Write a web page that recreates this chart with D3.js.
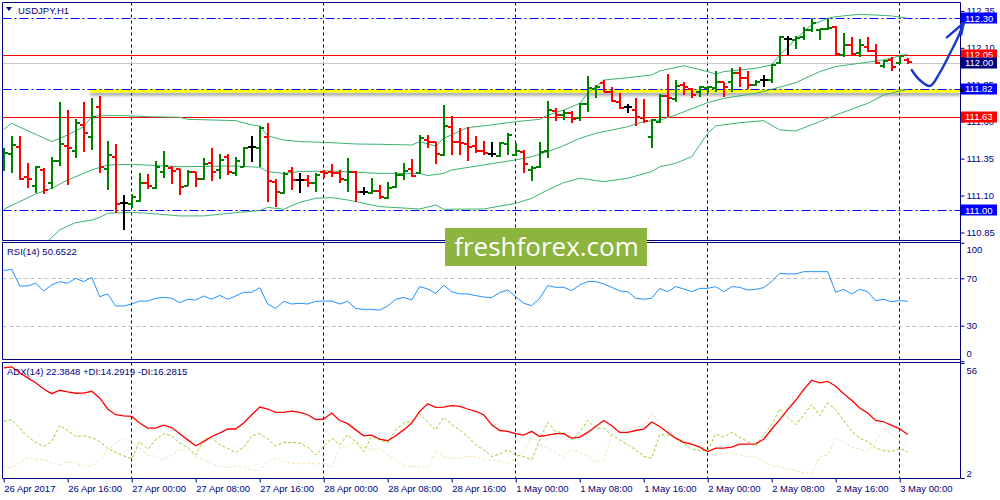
<!DOCTYPE html>
<html><head><meta charset="utf-8">
<script src="https://cdn.jsdelivr.net/npm/d3@7"></script>
<style>
body{margin:0;background:#fff;}
svg{display:block;font-family:"Liberation Sans",Arial,sans-serif;}
</style>
</head><body>
<svg id="c" width="1000" height="500"></svg>
<script>
// ---------------- DATA ----------------
const symbol = "USDJPY,H1";
const opens = [111.363,111.381,111.431,111.228,111.167,111.273,111.183,111.334,111.438,111.404,
111.578,111.494,111.697,111.280,111.363,111.052,111.043,111.065,111.187,111.153,
111.257,111.289,111.280,111.167,111.257,111.212,111.318,111.273,111.363,111.250,
111.295,111.431,111.424,111.499,111.194,111.115,111.268,111.205,111.205,111.183,
111.262,111.262,111.250,111.205,111.262,111.126,111.115,111.133,111.081,111.160,
111.239,111.280,111.250,111.476,111.465,111.374,111.566,111.465,111.447,111.438,
111.402,111.381,111.370,111.447,111.374,111.397,111.273,111.295,111.404,111.672,
111.645,111.657,111.623,111.720,111.821,111.860,111.803,111.736,111.697,111.679,
111.623,111.499,111.600,111.774,111.754,111.848,111.821,111.803,111.826,111.826,
111.871,111.871,111.927,111.894,111.848,111.882,111.882,111.995,112.160,112.153,
112.176,112.221,112.221,112.225,112.243,112.052,112.119,112.063,112.108,112.079,
111.979,112.018,111.995,112.018];
const highs = [111.420,111.503,111.503,111.318,111.302,111.289,111.359,111.736,111.679,111.616,
111.736,111.758,111.774,111.469,111.449,111.104,111.110,111.250,111.246,111.334,
111.402,111.302,111.280,111.273,111.257,111.352,111.424,111.379,111.381,111.363,
111.426,111.503,111.571,111.589,111.212,111.262,111.291,111.250,111.239,111.250,
111.273,111.314,111.273,111.352,111.268,111.160,111.217,111.171,111.189,111.257,
111.318,111.347,111.510,111.510,111.465,111.713,111.639,111.555,111.566,111.503,
111.469,111.465,111.465,111.521,111.453,111.408,111.302,111.465,111.740,111.695,
111.679,111.672,111.729,111.909,111.848,111.882,111.833,111.792,111.718,111.763,
111.751,111.618,111.788,111.923,111.882,111.871,111.826,111.842,111.842,111.943,
111.871,111.961,111.973,111.946,111.882,111.916,111.988,112.180,112.180,112.180,
112.239,112.300,112.228,112.300,112.248,112.203,112.176,112.158,112.176,112.124,
112.018,112.036,112.052,112.029];
const lows = [111.268,111.255,111.205,111.149,111.119,111.108,111.147,111.302,111.171,111.352,
111.397,111.408,111.250,111.138,110.980,110.867,111.013,111.059,111.142,111.142,
111.217,111.178,111.104,111.165,111.160,111.205,111.201,111.212,111.239,111.235,
111.295,111.329,111.295,111.059,111.025,111.108,111.138,111.119,111.160,111.126,
111.217,111.228,111.183,111.126,111.059,111.104,111.108,111.077,111.077,111.149,
111.205,111.228,111.246,111.420,111.314,111.370,111.374,111.374,111.336,111.390,
111.374,111.359,111.359,111.374,111.368,111.255,111.198,111.289,111.356,111.607,
111.611,111.589,111.607,111.668,111.758,111.799,111.736,111.686,111.657,111.571,
111.593,111.420,111.589,111.630,111.731,111.781,111.758,111.769,111.792,111.803,
111.769,111.803,111.837,111.819,111.842,111.837,111.864,111.988,112.052,112.090,
112.153,112.205,112.153,112.221,112.052,112.036,112.052,112.040,112.074,111.991,
111.961,111.946,111.991,111.988];
const closes = [111.390,111.440,111.212,111.212,111.295,111.138,111.334,111.449,111.420,111.589,
111.521,111.634,111.295,111.374,111.043,111.052,111.092,111.187,111.167,111.295,
111.300,111.266,111.160,111.257,111.212,111.314,111.262,111.341,111.262,111.336,
111.424,111.431,111.555,111.198,111.122,111.246,111.205,111.205,111.183,111.239,
111.250,111.250,111.212,111.257,111.126,111.126,111.131,111.088,111.153,111.239,
111.268,111.235,111.487,111.465,111.379,111.571,111.465,111.453,111.431,111.404,
111.390,111.381,111.458,111.510,111.404,111.314,111.289,111.397,111.679,111.645,
111.657,111.618,111.720,111.826,111.833,111.799,111.740,111.690,111.697,111.634,
111.607,111.611,111.776,111.758,111.842,111.833,111.781,111.833,111.837,111.871,
111.837,111.927,111.894,111.848,111.871,111.882,111.984,112.176,112.160,112.164,
112.221,112.266,112.225,112.232,112.056,112.119,112.058,112.119,112.081,111.995,
112.011,111.973,112.045,112.006];

// Bollinger bands: [bar index, price]
const bbUpper = [[0,111.548],[1,111.589],[6,111.465],[8,111.510],[10,111.566],[11,111.634],[12,111.641],[15,111.641],[18,111.634],[22,111.630],[23,111.616],[29,111.607],[31,111.578],[32,111.571],[33,111.503],[35,111.476],[37,111.465],[41,111.458],[44,111.449],[47,111.447],[51,111.442],[52,111.465],[54,111.435],[55,111.487],[58,111.560],[61,111.578],[64,111.600],[67,111.616],[68,111.645],[70,111.679],[72,111.724],[73,111.792],[74,111.837],[75,111.882],[78,111.898],[81,111.916],[82,111.943],[85,111.979],[88,111.939],[89,111.923],[90,111.939],[94,111.961],[96,111.984],[97,112.052],[99,112.158],[100,112.210],[101,112.255],[103,112.300],[104,112.311],[107,112.327],[109,112.322],[111,112.316],[113,112.300]];
const bbMiddle = [[0,111.007],[2,111.059],[4,111.110],[6,111.149],[8,111.205],[10,111.250],[11,111.273],[13,111.307],[16,111.311],[22,111.295],[29,111.300],[32,111.291],[33,111.262],[35,111.250],[37,111.262],[41,111.266],[47,111.250],[52,111.250],[53,111.235],[55,111.250],[56,111.273],[60,111.307],[64,111.341],[66,111.363],[68,111.397],[70,111.438],[72,111.487],[74,111.521],[78,111.566],[80,111.600],[82,111.611],[84,111.645],[88,111.729],[90,111.758],[94,111.792],[96,111.819],[99,111.864],[102,111.939],[104,111.973],[110,112.018],[113,112.058]];
const bbLower = [[5,110.765],[7,110.867],[8,110.894],[9,110.916],[11,110.934],[12,110.952],[13,110.980],[16,110.986],[18,110.980],[22,110.962],[25,110.962],[29,110.984],[32,110.998],[33,111.020],[35,111.007],[37,111.054],[39,111.081],[41,111.086],[43,111.070],[47,111.025],[52,111.009],[54,111.036],[55,111.007],[60,111.009],[64,111.047],[66,111.081],[68,111.138],[70,111.187],[72,111.217],[75,111.194],[78,111.217],[81,111.262],[82,111.295],[84,111.318],[86,111.363],[88,111.521],[89,111.571],[92,111.593],[95,111.607],[97,111.544],[99,111.537],[102,111.600],[104,111.645],[108,111.724],[110,111.781],[113,111.819]];

const rsi14 = [76.5,77.6,63.5,63.5,65.8,59.3,64.4,67.2,65.8,70.0,
67.2,70.8,54.5,56.8,46.6,46.6,48.3,50.8,50.8,53.1,
53.9,53.1,49.4,52.3,51.7,55.1,52.3,55.6,52.3,55.1,
58.2,58.2,62.1,48.3,44.6,50.6,48.3,48.9,48.3,50.6,
50.8,50.8,48.3,50.6,44.6,43.8,43.8,43.2,46.6,52.3,
53.9,51.7,63.0,61.0,57.3,64.1,58.7,56.8,56.8,55.4,
54.2,53.7,58.0,60.1,54.5,48.9,46.9,53.1,63.8,62.4,
62.4,59.6,64.4,67.2,67.2,65.2,62.4,59.3,58.7,53.1,
52.3,53.1,61.5,58.7,63.0,61.0,58.7,61.5,61.5,63.0,
58.7,63.0,62.4,60.1,60.7,62.1,67.2,74.2,73.7,73.7,
75.6,75.6,75.6,75.6,58.2,60.7,56.8,60.7,58.7,51.1,
52.3,50.3,51.1,50.65];
const rsiLast = "50.6522";

const adx = [53.7,54.2,51.4,49.0,46.7,43.8,41.6,43.2,42.4,41.8,
41.9,42.7,39.6,34.4,31.7,31.2,30.9,27.8,25.4,25.4,
26.8,25.7,22.8,19.9,17.1,19.1,21.5,23.1,25.0,25.0,
27.8,31.7,35.3,34.4,32.8,32.8,33.4,32.8,31.7,29.4,
29.7,32.5,29.0,27.5,24.6,21.8,22.1,20.2,19.5,21.8,
24.6,27.8,33.3,36.9,35.2,35.3,36.0,35.6,34.4,33.3,
31.7,27.0,24.3,23.9,22.8,22.1,23.9,21.5,22.1,22.8,
22.8,20.7,21.2,23.4,26.2,29.0,26.5,23.4,23.4,24.3,
25.0,28.3,26.2,23.4,20.7,18.7,17.9,16.5,14.4,16.0,
16.0,16.5,17.9,17.9,18.0,20.2,25.0,29.4,34.1,38.5,
43.5,47.9,46.7,47.4,45.1,41.6,38.5,34.9,32.5,29.0,
28.4,26.7,25.1,22.38];
const plusDI = [28.6,29.4,25.4,21.5,18.7,16.8,19.1,26.7,24.3,21.5,
21.8,21.0,19.1,16.0,13.9,12.4,11.0,19.1,15.5,19.9,
22.8,21.8,18.4,16.5,12.8,20.2,20.7,17.6,16.0,13.9,
16.5,21.8,22.8,20.4,17.1,18.7,18.7,18.4,16.5,12.8,
16.8,20.7,17.6,22.3,19.1,14.4,21.5,19.9,18.4,24.6,
27.8,28.6,32.2,28.1,24.6,30.6,27.0,24.6,21.5,17.6,
15.2,12.1,13.2,15.2,12.8,12.1,10.5,19.9,28.1,23.9,
23.1,19.9,23.4,29.0,25.4,25.4,22.3,19.9,17.6,15.2,
12.1,11.3,22.3,22.3,20.7,18.4,15.5,14.9,14.9,22.8,
21.2,23.4,21.2,19.1,16.8,22.3,27.0,34.4,30.6,27.0,
31.7,36.4,31.2,37.2,34.1,29.0,23.9,20.7,19.1,16.0,
14.9,14.4,16.0,14.29];
const minusDI = [7.7,6.6,8.9,11.6,10.8,10.5,9.2,8.1,9.7,8.9,
7.7,7.7,10.5,15.2,18.4,20.7,19.1,16.0,12.8,12.1,
10.5,12.8,15.2,15.2,12.1,10.5,8.9,7.3,7.0,7.7,
7.0,5.8,5.5,9.7,11.3,9.7,8.9,8.6,8.9,8.6,
8.9,7.0,16.5,16.5,19.1,16.8,15.2,16.0,12.8,10.5,
7.7,7.3,7.3,7.0,15.2,12.1,11.3,11.3,12.1,12.1,
10.5,10.5,10.2,8.6,11.3,14.4,21.5,17.6,16.0,13.6,
12.1,15.2,13.9,12.1,9.7,10.5,22.3,23.9,25.4,26.2,
26.2,32.5,28.1,24.6,21.2,19.5,18.4,16.0,13.9,12.8,
13.6,14.1,12.8,12.1,12.1,9.7,7.7,7.3,6.1,5.5,
4.5,3.7,12.1,12.8,20.7,19.1,16.5,15.5,14.4,19.1,
25.1,22.8,19.1,16.28];
const adxLast = ["22.3848","14.2919","16.2815"];

const priceTicks = [110.85,111.10,111.35,111.60,111.85,112.10,112.35];
const blueLevels = [112.30,111.82,111.00];
const redLevels = [112.05,111.63];
const bidPrice = 112.00;
const yellowLevel = 111.82;
const yellowStartIdx = 10.8;
const rsiLevels = [30,70];
const rsiTicks = [0,30,70,100];
const adxTicks = [2,56];
const timeTickIdx = [0,8,16,24,32,40,48,56,64,72,80,88,96,104,112];
const timeLabels = ["26 Apr 2017","26 Apr 16:00","27 Apr 00:00","27 Apr 08:00","27 Apr 16:00","28 Apr 00:00","28 Apr 08:00","28 Apr 16:00","1 May 00:00","1 May 08:00","1 May 16:00","2 May 00:00","2 May 08:00","2 May 16:00","3 May 00:00"];
const dayStartIdx = [16,40,64,88,112];
// hand-drawn forecast arrow: [bar index, price]
const arrowPath = [[113.5,111.95],[114.5,111.882],[115.8,111.842],[117.0,111.93],[118.5,112.085],[119.3,112.173],[120.0,112.268]];
const arrowHead = [[117.9,112.171],[120.0,112.268],[119.7,112.19]];
const watermark = "freshforex.com";

// ---------------- LAYOUT ----------------
const svg = d3.select("#c");
const navy = "#000080";
const L = 2.5, R = 960.5;
const P = {main:[2.5,240.5], rsi:[242.5,359.5], adx:[362.5,478.5]};
const x = d3.scaleLinear().domain([0,113]).range([3.7,907.7]);
const y = d3.scaleLinear().domain([111.00,112.30]).range([210.3,18.3]);
const yR = d3.scaleLinear().domain([30,70]).range([325.7,278.3]);
const yA = d3.scaleLinear().domain([2,56]).range([478,363]);
const FS = "9.5px";

const defs = svg.append("defs");
Object.entries(P).forEach(([k,[t,b]])=>{
  defs.append("clipPath").attr("id","clip-"+k).append("rect")
    .attr("x",L).attr("y",t).attr("width",R-L).attr("height",b-t);
});
const f = defs.append("filter").attr("id","shadow").attr("filterUnits","userSpaceOnUse")
  .attr("x",0).attr("y",0).attr("width",1000).attr("height",500);
f.append("feDropShadow").attr("dx",0).attr("dy",3).attr("stdDeviation",1.5).attr("flood-color","#555").attr("flood-opacity",0.55);

svg.append("rect").attr("width",1000).attr("height",500).attr("fill","#fff");

// vertical day separators
const grid = svg.append("g");
Object.values(P).forEach(([t,b])=>{
  grid.selectAll(null).data(dayStartIdx).join("line")
    .attr("x1",d=>Math.floor(x(d))+0.5).attr("x2",d=>Math.floor(x(d))+0.5)
    .attr("y1",t).attr("y2",b)
    .attr("stroke",navy).attr("stroke-width",1).attr("stroke-dasharray","3,3");
});

// ---------------- MAIN PANEL ----------------
const gm = svg.append("g").attr("clip-path","url(#clip-main)");
const hline = (g,p,col,dash)=>g.append("line").attr("x1",L).attr("x2",R)
  .attr("y1",Math.round(y(p))+0.5).attr("y2",Math.round(y(p))+0.5)
  .attr("stroke",col).attr("stroke-width",1).attr("stroke-dasharray",dash||null);
hline(gm,bidPrice,"#c8c8c8");
redLevels.forEach(p=>hline(gm,p,"#ff0000"));
gm.append("rect").attr("x",x(yellowStartIdx)).attr("width",R-x(yellowStartIdx))
  .attr("y",Math.round(y(yellowLevel))).attr("height",3.6)
  .attr("fill","#ffff00").attr("filter","url(#shadow)");
blueLevels.forEach(p=>hline(gm,p,"#0000ff","9,3,2,3"));

const bbLine = d3.line().x(d=>x(d[0])).y(d=>y(d[1]));
[bbUpper,bbMiddle,bbLower].forEach(b=>{
  gm.append("path").attr("d",bbLine(b)).attr("fill","none").attr("stroke","#3cb371").attr("stroke-width",1);
});

const bars = opens.map((o,i)=>({i,o,h:highs[i],l:lows[i],c:closes[i]}));
const col = d=>d.c>d.o?"#008000":(d.c<d.o?"#ff0000":"#000000");
const bg = gm.selectAll("g.bar").data(bars).join("g").attr("class","bar").attr("stroke",col).attr("stroke-width",2);
bg.append("line").attr("x1",d=>Math.round(x(d.i))).attr("x2",d=>Math.round(x(d.i)))
  .attr("y1",d=>Math.round(y(d.h))).attr("y2",d=>Math.round(y(d.l)));
bg.append("line").attr("x1",d=>Math.round(x(d.i))-4).attr("x2",d=>Math.round(x(d.i)))
  .attr("y1",d=>Math.round(y(d.o))).attr("y2",d=>Math.round(y(d.o)));
bg.append("line").attr("x1",d=>Math.round(x(d.i))).attr("x2",d=>Math.round(x(d.i))+4)
  .attr("y1",d=>Math.round(y(d.c))).attr("y2",d=>Math.round(y(d.c)));

// title
svg.append("path").attr("d","M6,7 L12,7 L9,11 Z").attr("fill",navy);
svg.append("text").attr("x",18).attr("y",14).attr("font-size",FS).attr("fill",navy).text(symbol);

// ---------------- RSI PANEL ----------------
const gr = svg.append("g").attr("clip-path","url(#clip-rsi)");
gr.selectAll(null).data(rsiLevels).join("line")
  .attr("x1",L).attr("x2",R).attr("y1",d=>Math.round(yR(d))+0.5).attr("y2",d=>Math.round(yR(d))+0.5)
  .attr("stroke","#c0c0c0").attr("stroke-dasharray","4,3");
gr.append("path").attr("d",d3.line().x((d,i)=>x(i)).y(d=>yR(d))(rsi14))
  .attr("fill","none").attr("stroke","#1e90ff").attr("stroke-width",1);
svg.append("text").attr("x",7).attr("y",255).attr("font-size",FS).attr("fill",navy).text("RSI(14) "+rsiLast);

// ---------------- ADX PANEL ----------------
const ga = svg.append("g").attr("clip-path","url(#clip-adx)");
const al = d3.line().x((d,i)=>x(i)).y(d=>yA(d));
ga.append("path").attr("d",al(minusDI)).attr("fill","none").attr("stroke","#f5deb3").attr("stroke-width",1).attr("stroke-dasharray","3,2");
ga.append("path").attr("d",al(plusDI)).attr("fill","none").attr("stroke","#9acd32").attr("stroke-width",1).attr("stroke-dasharray","3,2");
ga.append("path").attr("d",al(adx)).attr("fill","none").attr("stroke","#ff0000").attr("stroke-width",1.3);
svg.append("text").attr("x",7).attr("y",375).attr("font-size",FS).attr("fill",navy)
  .text("ADX(14) "+adxLast[0]+" +DI:"+adxLast[1]+" -DI:"+adxLast[2]);

// panel borders
Object.values(P).forEach(([t,b])=>{
  svg.append("path").attr("d",`M${R},${t} L${L},${t} L${L},${b} L${R},${b}`)
    .attr("fill","none").attr("stroke",navy).attr("stroke-width",1);
});
svg.append("line").attr("x1",R).attr("x2",R).attr("y1",P.main[0]).attr("y2",P.adx[1])
  .attr("stroke",navy).attr("stroke-width",1);

// ---------------- AXES ----------------
function styleAxis(g){
  g.select(".domain").remove();
  g.selectAll("line").attr("stroke",navy);
  g.selectAll("text").attr("fill",navy).attr("font-size",FS).attr("font-family","Liberation Sans, Arial, sans-serif");
}
const ax = svg.append("g").attr("transform",`translate(${R},0)`)
  .call(d3.axisRight(y).tickValues(priceTicks).tickSize(4).tickPadding(2).tickFormat(d3.format(".2f")));
styleAxis(ax);
const axr = svg.append("g").attr("transform",`translate(${R},0)`)
  .call(d3.axisRight(yR).tickValues(rsiTicks).tickSize(4).tickPadding(2).tickFormat(d3.format("d")));
styleAxis(axr);
axr.selectAll(".tick text").attr("y",d=>d===100?6.5:(d===0?-8:0));
const axa = svg.append("g").attr("transform",`translate(${R},0)`)
  .call(d3.axisRight(yA).tickValues(adxTicks).tickSize(4).tickPadding(2).tickFormat(d3.format("d")));
styleAxis(axa);
axa.selectAll(".tick text").attr("y",d=>d===56?7:-5);
const axb = svg.append("g").attr("transform",`translate(0,${P.adx[1]})`)
  .call(d3.axisBottom(x).tickValues(timeTickIdx).tickSize(4).tickPadding(3).tickFormat((d,k)=>timeLabels[k]));
styleAxis(axb);
axb.selectAll(".tick text").attr("text-anchor","start");

// price label boxes
const boxes = [
  ...blueLevels.map(p=>({p,fill:"#0000ff"})),
  ...redLevels.map(p=>({p,fill:"#ff0000"})),
  {p:bidPrice,fill:navy}
];
const gbx = svg.append("g");
boxes.forEach(b=>{
  const cy = y(b.p);
  gbx.append("rect").attr("x",961).attr("y",Math.round(cy)-5.5).attr("width",36).attr("height",11).attr("fill",b.fill);
  gbx.append("text").attr("x",965).attr("y",cy).attr("dy","0.34em").attr("font-size",FS).attr("fill","#fff").text(d3.format(".2f")(b.p));
});
gbx.append("rect").attr("x",960).attr("y",Math.round(y(yellowLevel))).attr("width",3).attr("height",3).attr("fill","#000");

// watermark
svg.append("rect").attr("x",445).attr("y",228).attr("width",202).attr("height",38).attr("fill","#8cb43f");
svg.append("text").attr("x",546.5).attr("y",256).attr("text-anchor","middle")
  .attr("font-family","'Open Sans',sans-serif").attr("font-size","26px").attr("fill","#fff").text(watermark);

// forecast arrow
const arL = d3.line().x(d=>x(d[0])).y(d=>y(d[1])).curve(d3.curveCatmullRom);
svg.append("path").attr("d",arL(arrowPath)).attr("fill","none").attr("stroke","#1b35d0").attr("stroke-width",2.4).attr("stroke-linecap","round").attr("stroke-linejoin","round");
svg.append("path").attr("d",d3.line().x(d=>x(d[0])).y(d=>y(d[1]))(arrowHead)).attr("fill","none").attr("stroke","#1b35d0").attr("stroke-width",2.4).attr("stroke-linecap","round").attr("stroke-linejoin","round");
</script>
</body></html>
